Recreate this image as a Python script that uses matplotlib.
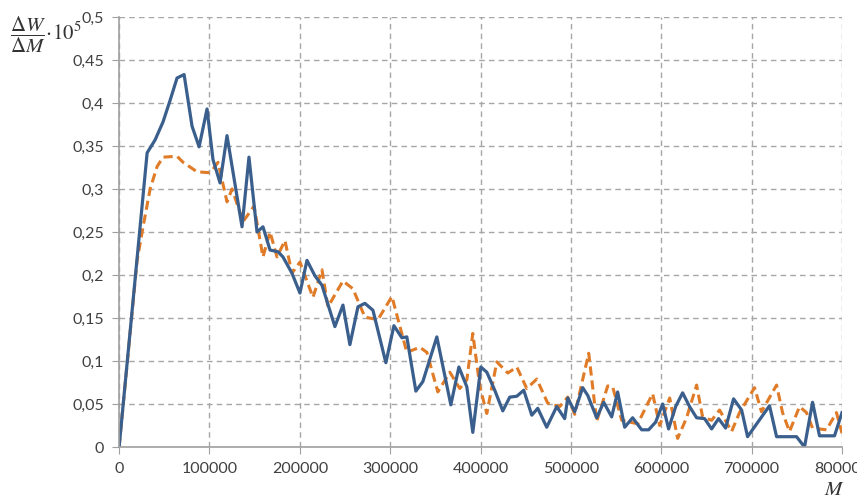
import matplotlib.pyplot as plt
from matplotlib.ticker import FuncFormatter, MultipleLocator

# series
m_solid = [0, 31000, 39800, 48600, 56400, 64100, 71900, 80700, 88500, 97300,
           103900, 111700, 119400, 136000, 143700, 152600, 159200, 167000,
           175800, 181300, 191300, 200100, 207900, 216700, 224500, 238800,
           247700, 255400, 264300, 272000, 280900, 295200, 304100, 312900,
           318400, 328400, 336100, 351600, 367100, 376000, 384800, 391400,
           400300, 406900, 415700, 424600, 432300, 440100, 447800, 456700,
           463300, 473200, 484300, 493100, 496500, 504200, 513000, 518600,
           528500, 536300, 545100, 551700, 559500, 568300, 578300, 586000,
           593800, 601500, 608100, 615900, 623600, 631300, 639100, 647900,
           655700, 663400, 671200, 680000, 688900, 695500, 719800, 727600,
           749700, 758500, 767400, 775100, 791700, 800000]
w_solid = [0, 0.342, 0.357, 0.378, 0.403, 0.429, 0.433, 0.373, 0.349, 0.393,
           0.334, 0.307, 0.362, 0.256, 0.337, 0.250, 0.256, 0.229,
           0.227, 0.221, 0.202, 0.179, 0.217, 0.199, 0.188, 0.140,
           0.165, 0.119, 0.163, 0.167, 0.159, 0.098, 0.141, 0.127,
           0.128, 0.065, 0.076, 0.128, 0.049, 0.093, 0.070, 0.017,
           0.093, 0.087, 0.066, 0.042, 0.058, 0.059, 0.066, 0.037,
           0.045, 0.023, 0.047, 0.033, 0.057, 0.041, 0.069, 0.060,
           0.034, 0.052, 0.035, 0.064, 0.023, 0.034, 0.020, 0.020,
           0.029, 0.050, 0.021, 0.047, 0.063, 0.047, 0.034, 0.033,
           0.021, 0.033, 0.022, 0.056, 0.043, 0.012, 0.048, 0.012,
           0.012, 0.000, 0.052, 0.013, 0.013, 0.040]

m_dash = [0, 19900, 26500, 34300, 42000, 48600, 64100, 70800, 86200, 98400,
          103900, 109500, 119400, 125000, 137100, 149300, 159200, 167000,
          174700, 183500, 191300, 200100, 214500, 224500, 231100, 247700,
          258700, 272000, 286400, 301900, 318400, 332800, 340600, 352700,
          366000, 377000, 384800, 391400, 399200, 406900, 418000, 430100,
          440100, 451100, 462200, 474300, 487600, 496500, 504200, 519700,
          528500, 540700, 546200, 556200, 573900, 590400, 598200, 609300,
          618100, 628000, 639100, 645700, 655700, 664500, 677800, 686600,
          703200, 710900, 727600, 734200, 741900, 753000, 760700, 767400,
          782800, 793900, 800000]
w_dash = [0, 0.217, 0.256, 0.300, 0.326, 0.337, 0.338, 0.331, 0.320, 0.319,
          0.323, 0.331, 0.285, 0.300, 0.262, 0.280, 0.221, 0.250,
          0.221, 0.240, 0.202, 0.215, 0.174, 0.206, 0.163, 0.193,
          0.184, 0.151, 0.148, 0.175, 0.110, 0.116, 0.110, 0.064,
          0.087, 0.068, 0.078, 0.132, 0.070, 0.039, 0.099, 0.086,
          0.093, 0.068, 0.079, 0.051, 0.047, 0.058, 0.038, 0.109,
          0.030, 0.071, 0.070, 0.031, 0.027, 0.062, 0.025, 0.057,
          0.010, 0.034, 0.072, 0.035, 0.031, 0.043, 0.018, 0.040,
          0.069, 0.041, 0.072, 0.040, 0.018, 0.047, 0.040, 0.022,
          0.020, 0.040, 0.016]

plt.rcParams['font.family'] = ['Lato', 'DejaVu Sans']
plt.rcParams['mathtext.fontset'] = 'stix'

fig = plt.figure(figsize=(8.57, 4.98), dpi=100)
ax = fig.add_axes([0.139, 0.1024, 0.8435, 0.8636])

ax.plot(m_dash, w_dash, color='#e07b28', lw=2.2, dashes=(3, 1.6))
ax.plot(m_solid, w_solid, color='#3b5f8d', lw=2.3)

ax.set_xlim(0, 800000)
ax.set_ylim(0, 0.5)
ax.xaxis.set_major_locator(MultipleLocator(100000))
ax.yaxis.set_major_locator(MultipleLocator(0.05))
ax.yaxis.set_major_formatter(FuncFormatter(lambda v, p: ('%g' % round(v, 2)).replace('.', ',')))
ax.xaxis.set_major_formatter(FuncFormatter(lambda v, p: '%d' % v))

ax.grid(True, color='#a6a6a6', lw=1, dashes=(4, 3))
ax.set_axisbelow(True)
for side in ('top', 'right'):
    ax.spines[side].set_visible(False)
for side in ('left', 'bottom'):
    ax.spines[side].set_color('#a0a0a0')
    ax.spines[side].set_linewidth(1.2)
ax.tick_params(axis='both', labelsize=11.5, colors='#404040', length=5,
               color='#a0a0a0', pad=6)

fig.text(0.012, 0.93, r'$\dfrac{\Delta W}{\Delta M}\!\cdot\! 10^5$', fontsize=15,
         color='#333333', va='center', ha='left')
fig.text(0.974, 0.018, r'$M$', fontsize=15, color='#333333', ha='center', va='center')

fig.savefig('out.png', dpi=100)
